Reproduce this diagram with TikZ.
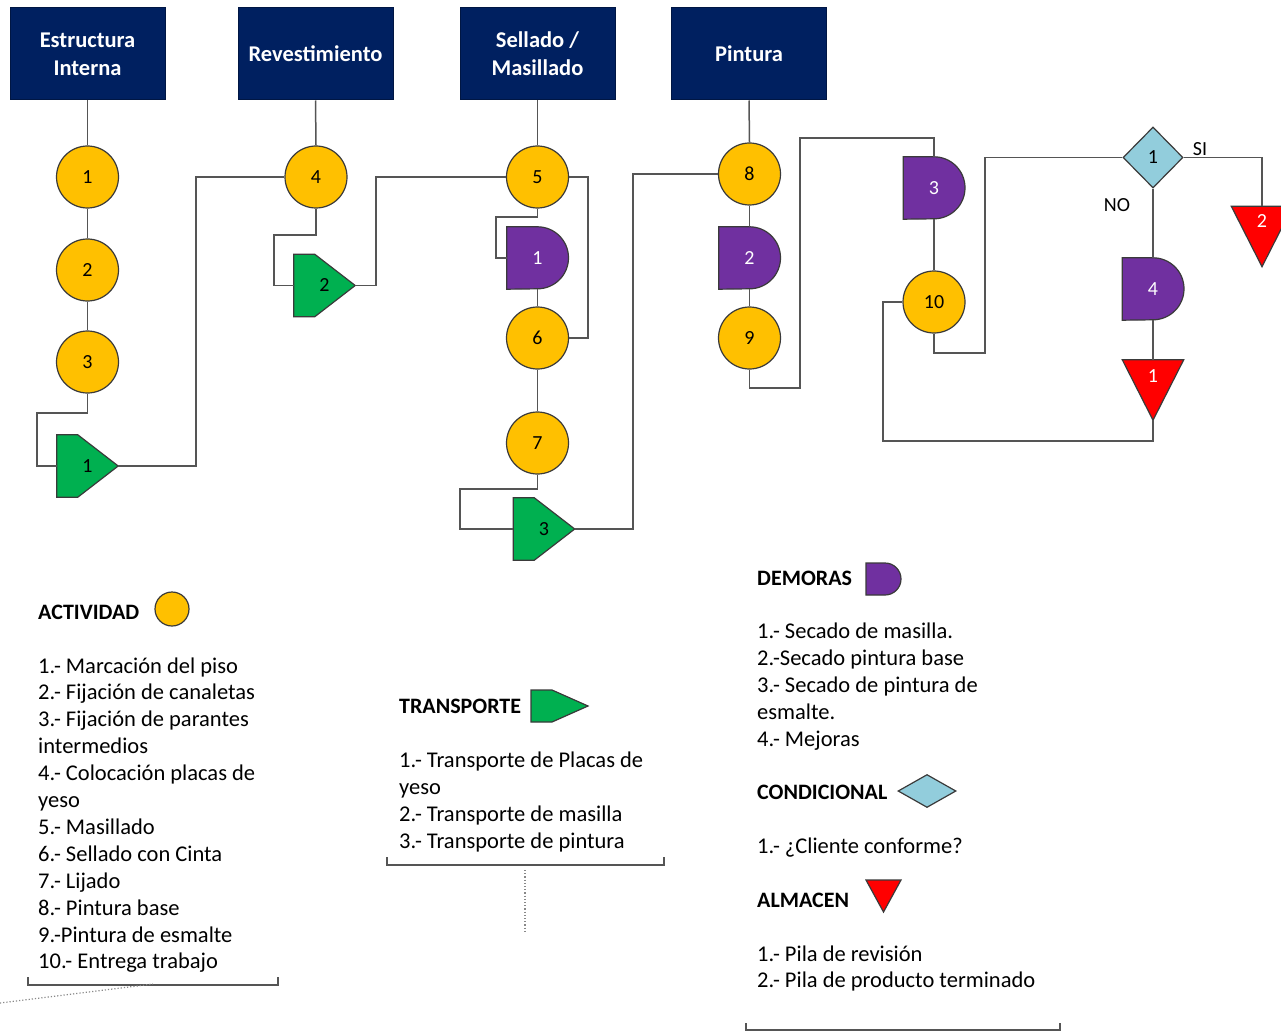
\documentclass[tikz,border=0pt]{standalone}
\usepackage{fontspec}
\setmainfont{Carlito}
\usetikzlibrary{shapes.geometric,calc}
\definecolor{navy}{HTML}{002060}
\definecolor{amber}{HTML}{FFC000}
\definecolor{tgreen}{HTML}{00B050}
\definecolor{dpurple}{HTML}{7030A0}
\definecolor{cblue}{HTML}{92CDDC}
\definecolor{lgray}{HTML}{555555}
\definecolor{edge}{HTML}{3A3A3A}
\newcommand{\boxfnt}{\bfseries\fontsize{22.5}{28}\selectfont}
\newcommand{\numfnt}{\fontsize{20}{23}\selectfont}
\newcommand{\headfnt}{\bfseries\fontsize{22}{24}\selectfont}
\newcommand{\legfnt}{\fontsize{22.5}{27}\selectfont}
\tikzset{
  lnk/.style={draw=lgray, line width=1.5pt},
  hdr/.style={rectangle, fill=navy, draw=navy!70!black, line width=1pt, minimum width=155pt, minimum height=92pt, inner sep=0pt, text=white, font=\boxfnt, align=center},
  actv/.style={circle, draw=edge, line width=1.2pt, fill=amber, minimum size=62pt, inner sep=0pt, font=\numfnt},
  frm/.style={rectangle, minimum width=61pt, minimum height=62pt, inner sep=0pt},
  trshape/.style={fill=tgreen, draw=edge, line width=1.2pt, line join=miter},
  dlshape/.style={fill=dpurple, draw=edge, line width=1.2pt},
  stshape/.style={fill=red, draw=edge, line width=1.2pt},
  cond/.style={diamond, fill=cblue, draw=edge, line width=1.2pt, minimum width=60pt, minimum height=61pt, inner sep=0pt, font=\numfnt},
  bnum/.style={font=\numfnt, text=black, inner sep=0pt},
  wnum/.style={font=\numfnt, text=white, inner sep=0pt},
  lhead/.style={font=\headfnt, anchor=base west, inner sep=0pt},
  ltxt/.style={font=\legfnt, anchor=base west, inner sep=0pt},
  brk/.style={draw=lgray, line width=1.5pt},
  dots/.style={draw=lgray!70, line width=1.2pt, dotted}
}
\begin{document}
\begin{tikzpicture}[x=1pt,y=-1pt]
\useasboundingbox (0,0) rectangle (1281,1032);
\clip (0,0) rectangle (1281,1032);
\fill[white] (0,0) rectangle (1281,1032);

% headers
\node[hdr] (h1) at (87.5,54) {Estructura\\Interna};
\node[hdr] (h2) at (315.5,54) {Revestimiento};
\node[hdr] (h3) at (537.5,54) {Sellado /\\Masillado};
\node[hdr] (h4) at (749,54) {Pintura};

% frames for custom shapes
\node[frm] (t1) at (87.5,466) {};
\node[frm] (t2) at (324.5,285.5) {};
\node[frm] (t3) at (544,529) {};
\node[frm] (d1) at (537.5,258) {};
\node[frm] (d2) at (749.5,258) {};
\node[frm] (d3) at (934,188) {};
\node[frm] (d4) at (1153,289) {};
\node[frm, minimum height=60pt] (s1) at (1153,390) {};
\node[frm, minimum height=60pt] (s2) at (1262,236.5) {};

% transport shapes
\foreach \t in {t1,t2,t3}{
  \draw[trshape] (\t.north west) -- ($(\t.north west)+(21,0)$) -- (\t.east) -- ($(\t.south west)+(21,0)$) -- (\t.south west) -- cycle;
}
% delay shapes
\foreach \d in {d1,d2,d3,d4}{
  \draw[dlshape] (\d.north west) -- (\d.north) arc[start angle=90, end angle=-90, radius=31pt] -- (\d.south west) -- cycle;
}
% storage shapes
\foreach \s in {s1,s2}{
  \draw[stshape] (\s.north west) -- (\s.north east) -- (\s.south) -- cycle;
}

% activities
\node[actv] (c1) at (87.5,177) {1};
\node[actv] (c2) at (87.5,270) {2};
\node[actv] (c3) at (87.5,362) {3};
\node[actv] (c4) at (316,177) {4};
\node[actv] (c5) at (537.5,177) {5};
\node[actv] (c6) at (537.5,338) {6};
\node[actv] (c7) at (537.5,443) {7};
\node[actv] (c8) at (749.5,174) {8};
\node[actv] (c9) at (749.5,338) {9};
\node[actv] (c10) at (934,302) {10};
\node[cond] (q1) at (1153,157.5) {1};

% connectors
\draw[lnk] (h1.south) -- (c1.north);
\draw[lnk] (c1.south) -- (c2.north);
\draw[lnk] (c2.south) -- (c3.north);
\draw[lnk] (c3.south) -- (87.5,413) -| (37,466) -- (t1.west);
\draw[lnk] (t1.east) -- (196,466) |- (c4.west);
\draw[lnk] (h2.south) -- (c4.north);
\draw[lnk] (c4.south) -- (316,235) -| (274,285.5) -- (t2.west);
\draw[lnk] (t2.east) -- (376,285.5) |- (c5.west);
\draw[lnk] (h3.south) -- (c5.north);
\draw[lnk] (c5.south) -- (537.5,217) -| (496,258) -- (d1.west);
\draw[lnk] (c5.east) -- (588,177) |- (c6.east);
\draw[lnk] (d1.south) -- (c6.north);
\draw[lnk] (c6.south) -- (c7.north);
\draw[lnk] (c7.south) -- (537.5,489) -| (460,529) -- (t3.west);
\draw[lnk] (t3.east) -- (633,529) |- (c8.west);
\draw[lnk] (h4.south) -- (c8.north);
\draw[lnk] (c8.south) -- (d2.north);
\draw[lnk] (d2.south) -- (c9.north);
\draw[lnk] (c9.south) -- (749.5,388) -| (800,138) -| (d3.north);
\draw[lnk] (d3.south) -- (c10.north);
\draw[lnk] (c10.south) -- (934,353) -| (985,157.5) -- (q1.west);
\draw[lnk] (q1.east) -| (s2.north);
\draw[lnk] (q1.south) -- (d4.north);
\draw[lnk] (d4.south) -- (s1.north);
\draw[lnk] (s1.south) -- (1153,441) -| (883,302) -- (c10.west);

% numbers on custom shapes
\node[bnum] (t1n) at (t1) {1};
\node[bnum] (t2n) at (t2) {2};
\node[bnum] (t3n) at (t3) {3};
\node[wnum] (d1n) at (537.5,258) {1};
\node[wnum] (d2n) at (749.5,258) {2};
\node[wnum] (d3n) at (934,188) {3};
\node[wnum] (d4n) at (1153,289) {4};
\node[wnum] (s1n) at (1153,376) {1};
\node[wnum] (s2n) at (1262,221) {2};
\node[bnum] (si) at (1200,149) {SI};
\node[bnum] (no) at (1117,205) {NO};

% legend: ACTIVIDAD
\node[lhead] (la) at (38,619) {ACTIVIDAD};
\node[circle, draw=edge, line width=1.2pt, fill=amber, minimum size=34pt, inner sep=0pt] (lac) at (172,609) {};
\foreach \txt [count=\i from 0] in {1.- Marcación del piso,2.- Fijación de canaletas,3.- Fijación de parantes,intermedios,4.- Colocación placas de,yeso,5.- Masillado,6.- Sellado con Cinta,7.- Lijado,8.- Pintura base,9.-Pintura de esmalte,10.- Entrega trabajo}{
  \node[ltxt] (la\i) at (38,673+26.9*\i) {\txt};
}
\draw[brk] (28,977) -- (28,985) -- (278,985) -- (278,977);
\draw[dots] (0,1003) -- (153,984);

% legend: TRANSPORTE
\node[lhead] (lt) at (399,713) {TRANSPORTE};
\draw[trshape] (531,690) -- (552,690) -- (588,706) -- (552,722) -- (531,722) -- cycle;
\foreach \txt [count=\i from 0] in {1.- Transporte de Placas de,yeso,2.- Transporte de masilla,3.- Transporte de pintura}{
  \node[ltxt] (lt\i) at (399,767+27*\i) {\txt};
}
\draw[brk] (387,857) -- (387,865) -- (664,865) -- (664,857);
\draw[dots] (525,870) -- (525,932);

% legend: DEMORAS
\node[lhead] (ld) at (757,585) {DEMORAS};
\draw[dlshape] (866,563) -- (885,563) arc[start angle=90, end angle=-90, radius=16pt] -- (866,595) -- cycle;
\foreach \txt [count=\i from 0] in {1.- Secado de masilla.,2.-Secado pintura base,3.- Secado de pintura de,esmalte.,4.- Mejoras}{
  \node[ltxt] (ld\i) at (757,638+27.2*\i) {\txt};
}

% legend: CONDICIONAL
\node[lhead] (lc) at (757,799) {CONDICIONAL};
\node[diamond, fill=cblue, draw=edge, line width=1.2pt, minimum width=58pt, minimum height=33pt, inner sep=0pt] (lcd) at (927,791) {};
\node[ltxt] (lc0) at (757,853) {1.- ¿Cliente conforme?};

% legend: ALMACEN
\node[lhead] (lm) at (757,907) {ALMACEN};
\draw[stshape] (866,880) -- (901,880) -- (883.5,912) -- cycle;
\node[ltxt] (lm0) at (757,961) {1.- Pila de revisión};
\node[ltxt] (lm1) at (757,987) {2.- Pila de producto terminado};
\draw[brk] (746,1023) -- (746,1030) -- (1060,1030) -- (1060,1023);
\end{tikzpicture}
\end{document}
